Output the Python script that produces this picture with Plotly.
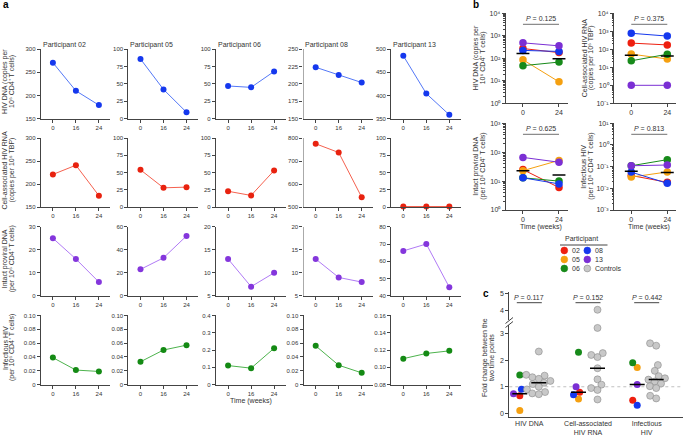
import numpy as np
import plotly.graph_objects as go

W, H = 685, 435
def px(x): return x / W
def py(y): return 1 - y / H

# ---------------- data ----------------
weeks = [0, 16, 24]
participants = ["02", "05", "06", "08", "13"]

hiv_dna = {"02": [271, 210, 179], "05": [86, 42, 9], "06": [47, 45, 68],
           "08": [224, 213, 202], "13": [486, 404, 358]}
ca_rna = {"02": [221, 241, 175], "05": [54, 28, 29], "06": [23, 17, 53],
          "08": [775, 737, 543], "13": [1, 1, 1]}
intact_dna = {"02": [25, 16, 6], "05": [23, 33, 52], "06": [13, 7, 10],
              "08": [13, 9, 8], "13": [66, 70, 45]}
infectious = {"02": [0.039, 0.021, 0.019], "05": [0.033, 0.050, 0.057], "06": [0.11, 0.095, 0.21],
              "08": [0.056, 0.028, 0.017], "13": [0.110, 0.116, 0.119]}

controls_fc_dna = [2.33, 1.45, 1.42, 1.36, 1.3, 1.22, 1.15, 1.1, 1.0, 0.9, 0.8, 0.75, 0.72]
controls_fc_rna = [4.03, 3.22, 2.27, 2.2, 2.12, 1.7, 1.28, 1.08, 0.95, 0.88, 0.52]
controls_fc_inf = [2.64, 2.55, 1.82, 1.6, 1.4, 1.32, 1.27, 1.2, 1.12, 1.02, 0.95, 0.66, 0.56]

p_values_b = ["0.125", "0.375", "0.625", "0.813"]
p_values_c = ["0.117", "0.152", "0.442"]
c_categories = ["HIV DNA", "Cell-associated<br>HIV RNA", "Infectious<br>HIV"]

# ---------------- styles ----------------
FONT = "Liberation Sans, Arial, sans-serif"
AX = "#444444"
TXT = "#333333"
pcol = {"02": "#ee1f0f", "05": "#f5a010", "06": "#178a1a", "08": "#1538ee", "13": "#7b2fd4"}
row_marker = ["#1538ee", "#e8220f", "#8436dc", "#148a14"]
row_line = ["#5478f7", "#f5614f", "#b07af5", "#4db34d"]
ctrl_fill, ctrl_edge = "#c8c8c8", "#8a8a8a"

SUP = str.maketrans("0123456789+-", "⁰¹²³⁴⁵⁶⁷⁸⁹⁺⁻")
def sup(s):
    return str(s).translate(SUP)

def axname(k, a):
    return a + "axis" + ("" if k == 1 else str(k))
def axref(k, a):
    return a + ("" if k == 1 else str(k))

layout = dict(width=W, height=H, margin=dict(l=0, r=0, t=0, b=0, autoexpand=False),
              paper_bgcolor="white", plot_bgcolor="white", showlegend=False,
              font=dict(family=FONT, size=7, color=TXT))
traces = []
annotations = []
shapes = []

def base_axis(**kw):
    d = dict(showline=True, linecolor=AX, linewidth=1, ticks="outside", ticklen=3,
             tickcolor=AX, tickwidth=1, showgrid=False, zeroline=False,
             tickfont=dict(size=6, color=TXT, family=FONT))
    d.update(kw)
    return d

def fmt(v, dec):
    if v == 0:
        return "0"
    return f"{v:.{dec}f}"

def note(text, x, y, size=7, angle=0, xanchor="center", color=TXT):
    annotations.append(dict(text=text, x=px(x), y=py(y), xref="paper", yref="paper", textangle=angle,
                            xanchor=xanchor, yanchor="middle", showarrow=False,
                            font=dict(size=size, color=color, family=FONT)))

cells = "(per " + "10" + sup(6) + " CD4" + sup("+") + " T cells)"
dna_l2 = "10" + sup(6) + " CD4" + sup("+") + " T cells)"
rna_l2 = "(copies per 10" + sup(6) + " TBP)"
titles = [("HIV DNA (copies per", dna_l2),
          ("Cell-associated HIV RNA", rna_l2),
          ("Intact proviral DNA", cells),
          ("Infectious HIV", cells)]

# ---------------- panel a ----------------
week_cats = [str(w) for w in weeks]
a_data = [hiv_dna, ca_rna, intact_dna, infectious]
a_ranges = [
    [(150, 300, 50), (0, 100, 25), (0, 100, 25), (150, 250, 25), (350, 500, 50)],
    [(150, 300, 50), (0, 100, 25), (0, 100, 25), (500, 800, 100), (0, 100, 25)],
    [(0, 30, 10), (0, 60, 20), (5, 20, 5), (5, 20, 5), (40, 80, 10)],
    [(0, 0.10, 0.02), (0, 0.10, 0.02), (0, 0.4, 0.1), (0, 0.10, 0.02), (0.08, 0.16, 0.02)],
]
col_left = [40.7 + 87.6 * i for i in range(5)]
col_w = 69.7
row_top = [49.3 + 88.7 * r for r in range(4)]
row_h = 69.2

for r in range(4):
    for c, p in enumerate(participants):
        k = r * 5 + c + 1
        lo, hi, step = a_ranges[r][c]
        tv = list(np.round(np.arange(lo, hi + step / 2, step), 4))
        dec = 0 if step >= 1 else (1 if abs(step * 10 - round(step * 10)) < 1e-9 else 2)
        tt = [fmt(v, dec) for v in tv]
        left, top = col_left[c], row_top[r]
        ycol = "#aaaaaa" if (c == 3 and r < 3) else AX
        layout[axname(k, "x")] = base_axis(domain=[px(left), px(left + col_w)], anchor=axref(k, "y"),
                                          type="category", categoryorder="array", categoryarray=week_cats,
                                          range=[-0.53, 2.5])
        layout[axname(k, "y")] = base_axis(domain=[py(top + row_h), py(top)], anchor=axref(k, "x"),
                                          range=[lo, hi], tickmode="array", tickvals=tv, ticktext=tt,
                                          linecolor=ycol, linewidth=1.4 if ycol != AX else 1)
        traces.append(go.Scatter(x=week_cats, y=a_data[r][p], mode="lines+markers",
                                 line=dict(color=row_line[r], width=1),
                                 marker=dict(color=row_marker[r], size=6),
                                 xaxis=axref(k, "x"), yaxis=axref(k, "y"), cliponaxis=False))
        if r == 0:
            note(f"Participant {p}", left, 45.5, size=7, xanchor="left")

for r, (l1, l2) in enumerate(titles):
    yc = row_top[r] + row_h / 2 - 2
    note(l1, 5.0, yc, size=7, angle=-90)
    note(l2, 12.0, yc, size=7, angle=-90)
note("Time (weeks)", 251, 401, size=7)

# ---------------- panel b ----------------
def dec_label(e):
    return "10" + sup(e)

b_data = [hiv_dna, ca_rna, intact_dna, infectious]
b_logrange = [(0, 4), (-1, 4), (0, 3), (-3, 1)]
b_left = [505.7, 614, 505.7, 614]
b_w = 62.3
b_top = [13.3, 13.3, 123.3, 123.3]
b_h = [90, 90, 86.7, 86.7]
b_title_x = [(476, 483), (584, 591), (476, 483), (584, 591)]
b_x = [0, 24]
b_xrange = [-11.5, 30]

for i in range(4):
    k = 21 + i
    lo, hi = b_logrange[i]
    tv = [10.0 ** e for e in range(lo, hi + 1)]
    tt = [dec_label(e) for e in range(lo, hi + 1)]
    minor = [m * 10.0 ** e for e in range(lo, hi) for m in range(2, 10)]
    left, top, h = b_left[i], b_top[i], b_h[i]
    layout[axname(k, "x")] = base_axis(domain=[px(left), px(left + b_w)], anchor=axref(k, "y"),
                                      range=b_xrange, tickmode="array", tickvals=b_x, ticklen=2.5,
                                      tickfont=dict(size=7, color=TXT, family=FONT))
    layout[axname(k, "y")] = base_axis(domain=[py(top + h), py(top)], anchor=axref(k, "x"), type="log",
                                      range=[lo, hi], tickmode="array", tickvals=tv, ticktext=tt,
                                      tickfont=dict(size=7, color=TXT, family=FONT),
                                      minor=dict(tickmode="array", tickvals=minor, ticks="outside",
                                                 ticklen=1.5, tickcolor=AX, tickwidth=0.6))
    d = b_data[i]
    for p in participants:
        traces.append(go.Scatter(x=b_x, y=[d[p][0], d[p][2]], mode="lines+markers",
                                 line=dict(color=pcol[p], width=1),
                                 marker=dict(color=pcol[p], size=7.5),
                                 xaxis=axref(k, "x"), yaxis=axref(k, "y"), cliponaxis=False))
    for wk in b_x:
        vals = [d[p][0 if wk == 0 else 2] for p in participants]
        gm = float(np.exp(np.mean(np.log(vals))))
        traces.append(go.Scatter(x=[wk - 4.3, wk + 4.3], y=[gm, gm], mode="lines",
                                 line=dict(color="black", width=1.5),
                                 xaxis=axref(k, "x"), yaxis=axref(k, "y"), cliponaxis=False,
                                 hoverinfo="skip"))
    x0 = left + (0 - b_xrange[0]) / (b_xrange[1] - b_xrange[0]) * b_w
    x1 = left + (24 - b_xrange[0]) / (b_xrange[1] - b_xrange[0]) * b_w
    ybar = top + 11
    shapes.append(dict(type="line", xref="paper", yref="paper", x0=px(x0), x1=px(x1),
                       y0=py(ybar), y1=py(ybar), line=dict(color="#8c8c8c", width=1.3)))
    note(f"<i>P</i> = {p_values_b[i]}", (x0 + x1) / 2, ybar - 5.5, size=7)
    yc = top + h / 2
    for xx, t in zip(b_title_x[i], titles[i]):
        note(t, xx, yc, size=7, angle=-90)
    if i >= 2:
        note("Time (weeks)", (x0 + x1) / 2, 227, size=7)

# legend
note("Participant", 581, 239, size=7)
shapes.append(dict(type="line", xref="paper", yref="paper", x0=px(560), x1=px(607.5), y0=py(245),
                   y1=py(245), line=dict(color=AX, width=1)))
legend_items = [("02", 564.3, 250.5), ("08", 587.3, 250.5), ("05", 564.3, 259.5),
                ("13", 587.3, 259.5), ("06", 564.3, 268.5), ("Controls", 587.3, 268.5)]
for lab, cx, cy in legend_items:
    if lab == "Controls":
        fill, edge = ctrl_fill, ctrl_edge
    else:
        fill, edge = pcol[lab], pcol[lab]
    rr = 3.4
    shapes.append(dict(type="circle", xref="paper", yref="paper", x0=px(cx - rr), x1=px(cx + rr),
                       y0=py(cy + rr), y1=py(cy - rr), fillcolor=fill, line=dict(color=edge, width=0.6)))
    note(lab, cx + 6, cy, size=7, xanchor="left")

# ---------------- panel c ----------------
kx, kyl, kyu = 25, 25, 26
c_left, c_right = 509.3, 683
unit = 58.7
c_xrange = [(c_left - 529.3) / unit, (c_right - 529.3) / unit]
low_range = [-0.13, 3.35]
low_dom = (324.5, 416.7)
up_range = [3.43, 5.05]
up_dom = (292.4, 320)
low_scale = (low_dom[1] - low_dom[0]) / (low_range[1] - low_range[0])
up_scale = (up_dom[1] - up_dom[0]) / (up_range[1] - up_range[0])

layout[axname(kx, "x")] = base_axis(domain=[px(c_left), px(c_right)], anchor=axref(kyl, "y"),
                                   range=c_xrange, tickmode="array", tickvals=[0, 1, 2],
                                   ticktext=c_categories, ticks="",
                                   tickfont=dict(size=7, color=TXT, family=FONT))
layout[axname(kyl, "y")] = base_axis(domain=[py(low_dom[1]), py(low_dom[0])], anchor=axref(kx, "x"),
                                    range=low_range, tickmode="array", tickvals=[0, 1, 2, 3],
                                    tickfont=dict(size=7, color=TXT, family=FONT))
layout[axname(kyu, "y")] = base_axis(domain=[py(up_dom[1]), py(up_dom[0])], anchor=axref(kx, "x"),
                                    range=up_range, tickmode="array", tickvals=[4, 5],
                                    tickfont=dict(size=7, color=TXT, family=FONT))

def swarm(values, d_px):
    vals = np.asarray(values, float)
    ypx = np.where(vals > low_range[1], 1000 + vals * up_scale, vals * low_scale)
    order = np.argsort(vals)
    placed, offs = [], np.zeros(len(vals))
    for i in order:
        yv = ypx[i]
        cands = [0.0]
        for xj, yj in placed:
            dy = abs(yv - yj)
            if dy < d_px:
                dx = np.sqrt(d_px ** 2 - dy ** 2)
                cands += [xj - dx, xj + dx]
        cands.sort(key=abs)
        chosen = cands[0]
        for cx in cands:
            if all((cx - xj) ** 2 + (yv - yj) ** 2 >= d_px ** 2 - 1e-6 for xj, yj in placed):
                chosen = cx
                break
        placed.append((chosen, yv))
        offs[i] = chosen
    return offs / unit

fold_part = []
for d in (hiv_dna, ca_rna, infectious):
    fold_part.append([d[p][2] / d[p][0] for p in participants])
controls = [controls_fc_dna, controls_fc_rna, controls_fc_inf]
off_part, off_ctrl, half = -9.5 / unit, 9.5 / unit, 7.5 / unit

shapes.append(dict(type="line", xref="paper", yref=axref(kyl, "y"), x0=px(c_left), x1=px(c_right),
                   y0=1, y1=1, line=dict(color="#c0c0c0", width=1, dash="dot"), layer="below"))

for g in range(3):
    fp = fold_part[g]
    so = swarm(fp, 6.6)
    for j, p in enumerate(participants):
        traces.append(go.Scatter(x=[g + off_part + so[j]], y=[fp[j]], mode="markers",
                                 marker=dict(color=pcol[p], size=7),
                                 xaxis=axref(kx, "x"), yaxis=axref(kyl, "y"), cliponaxis=False))
    med = float(np.median(fp))
    traces.append(go.Scatter(x=[g + off_part - half, g + off_part + half], y=[med, med], mode="lines",
                             line=dict(color="black", width=1.5), xaxis=axref(kx, "x"),
                             yaxis=axref(kyl, "y"), cliponaxis=False))
    cv = np.asarray(controls[g], float)
    co = swarm(cv, 6.6)
    lowm = cv <= low_range[1]
    traces.append(go.Scatter(x=g + off_ctrl + co[lowm], y=cv[lowm], mode="markers",
                             marker=dict(color=ctrl_fill, size=7, line=dict(color=ctrl_edge, width=0.6)),
                             xaxis=axref(kx, "x"), yaxis=axref(kyl, "y"), cliponaxis=False))
    if (~lowm).any():
        traces.append(go.Scatter(x=g + off_ctrl + co[~lowm], y=cv[~lowm], mode="markers",
                                 marker=dict(color=ctrl_fill, size=7, line=dict(color=ctrl_edge, width=0.6)),
                                 xaxis=axref(kx, "x"), yaxis=axref(kyu, "y"), cliponaxis=False))
    cmed = float(np.median(cv))
    traces.append(go.Scatter(x=[g + off_ctrl - half, g + off_ctrl + half], y=[cmed, cmed], mode="lines",
                             line=dict(color="black", width=1.5), xaxis=axref(kx, "x"),
                             yaxis=axref(kyl, "y"), cliponaxis=False))
    cxp = 529.3 + g * unit
    shapes.append(dict(type="line", xref="paper", yref="paper", x0=px(cxp - 12.5), x1=px(cxp + 12.5),
                       y0=py(302.7), y1=py(302.7), line=dict(color=AX, width=1)))
    note(f"<i>P</i> = {p_values_c[g]}", cxp, 297, size=7)

# axis break marks
shapes.append(dict(type="rect", xref="paper", yref="paper", x0=px(507.5), x1=px(511), y0=py(324.2),
                   y1=py(320.2), fillcolor="white", line=dict(width=0), layer="above"))
for yy in (321.0, 325.0):
    shapes.append(dict(type="line", xref="paper", yref="paper", x0=px(505.5), x1=px(513),
                       y0=py(yy + 2.5), y1=py(yy - 3.5), line=dict(color=AX, width=1)))

note("Fold change between the", 485, 358, size=7, angle=-90)
note("two time points", 492, 358, size=7, angle=-90)

# panel letters
note("<b>a</b>", 1, 5, size=10, xanchor="left", color="black")
note("<b>b</b>", 471, 5, size=10, xanchor="left", color="black")
note("<b>c</b>", 481, 293, size=10, xanchor="left", color="black")

layout["annotations"] = annotations
layout["shapes"] = shapes
fig = go.Figure(data=traces, layout=layout)
fig.write_html("out.html", config={"displayModeBar": False},
               post_script="document.body.style.margin='0';document.body.style.padding='0';")
